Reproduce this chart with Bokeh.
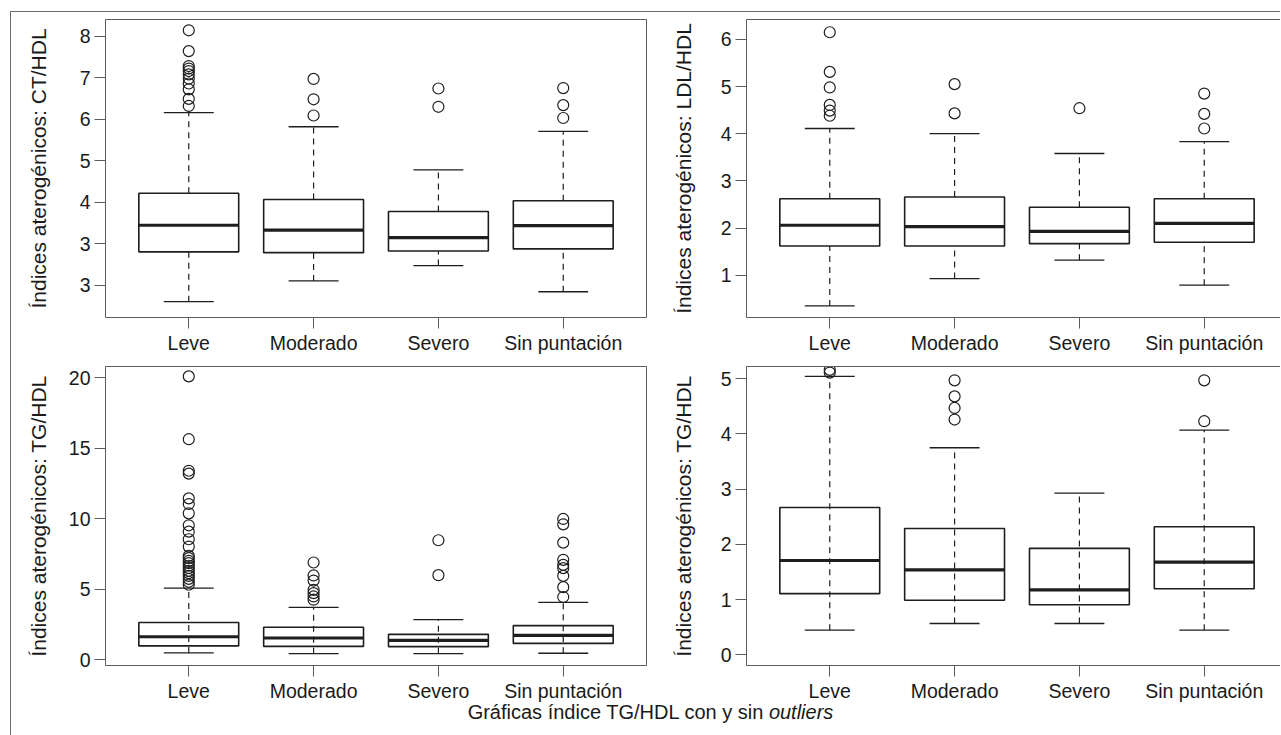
from bokeh.plotting import figure
from bokeh.layouts import column, row
from bokeh.models import FixedTicker, LinearAxis, Range1d, Div
from bokeh.embed import file_html
from bokeh.resources import INLINE

categories = ["Leve", "Moderado", "Severo", "Sin puntación"]

# Panel 1: CT/HDL
ct_q1 = [2.81, 2.79, 2.83, 2.88]
ct_med = [3.45, 3.33, 3.15, 3.44]
ct_q3 = [4.22, 4.07, 3.78, 4.04]
ct_lo = [1.61, 2.11, 2.48, 1.85]
ct_hi = [6.16, 5.82, 4.78, 5.71]
ct_out = [[8.14, 7.64, 7.28, 7.22, 7.16, 7.08, 6.98, 6.86, 6.72, 6.49, 6.32],
          [6.97, 6.48, 6.09], [6.74, 6.30], [6.75, 6.34, 6.03]]
ct_ticks = [2, 3, 4, 5, 6, 7, 8]
ct_labels = ["3", "3", "4", "5", "6", "7", "8"]

# Panel 2: LDL/HDL
ldl_q1 = [1.62, 1.62, 1.67, 1.70]
ldl_med = [2.06, 2.03, 1.93, 2.10]
ldl_q3 = [2.62, 2.66, 2.44, 2.62]
ldl_lo = [0.35, 0.93, 1.32, 0.79]
ldl_hi = [4.11, 4.00, 3.58, 3.83]
ldl_out = [[6.15, 5.31, 4.98, 4.61, 4.49, 4.38], [5.05, 4.43], [4.54], [4.85, 4.42, 4.11]]
ldl_ticks = [1, 2, 3, 4, 5, 6]
ldl_labels = ["1", "2", "3", "4", "5", "6"]

# Panel 3: TG/HDL (con outliers)
tg_q1 = [0.97, 0.94, 0.92, 1.15]
tg_med = [1.62, 1.53, 1.37, 1.72]
tg_q3 = [2.63, 2.29, 1.79, 2.41]
tg_lo = [0.47, 0.42, 0.42, 0.45]
tg_hi = [5.07, 3.70, 2.83, 4.06]
tg_out = [[20.1, 15.64, 13.4, 13.2, 11.44, 11.04, 10.38, 9.53, 9.08, 8.54, 8.02, 7.36, 7.2,
           7.0, 6.85, 6.66, 6.5, 6.3, 6.13, 5.94, 5.73, 5.52, 5.31],
          [6.89, 5.97, 5.61, 4.95, 4.72, 4.48, 4.25],
          [8.47, 5.99],
          [9.98, 9.6, 8.3, 7.08, 6.72, 6.49, 5.94, 5.14, 4.44]]
tg_ticks = [0, 5, 10, 15, 20]
tg_labels = ["0", "5", "10", "15", "20"]

# Panel 4: TG/HDL (sin outliers)
tg2_q1 = [1.11, 0.99, 0.91, 1.20]
tg2_med = [1.71, 1.54, 1.18, 1.68]
tg2_q3 = [2.67, 2.29, 1.93, 2.32]
tg2_lo = [0.45, 0.57, 0.57, 0.45]
tg2_hi = [5.04, 3.75, 2.93, 4.07]
tg2_out = [[5.16, 5.11], [4.97, 4.68, 4.47, 4.26], [], [4.97, 4.23]]
tg2_ticks = [0, 1, 2, 3, 4, 5]
tg2_labels = ["0", "1", "2", "3", "4", "5"]

caption_html = "Gráficas índice TG/HDL con y sin <i>outliers</i>"

FONT = "Liberation Sans"
FRAME = "#5c5c5c"
INK = "#1e1e1e"
TXT = "#1a1a1a"


def style_axis(ax, ticks, labels, size="19.5px"):
    ax.ticker = FixedTicker(ticks=ticks)
    ax.major_label_overrides = {t: l for t, l in zip(ticks, labels)}
    ax.major_tick_out = 11
    ax.major_tick_in = 0
    ax.minor_tick_out = 0
    ax.minor_tick_in = 0
    ax.axis_line_color = FRAME
    ax.major_tick_line_color = FRAME
    ax.major_label_text_font = FONT
    ax.major_label_text_font_size = size
    ax.major_label_text_color = TXT


def blank_axis(color=FRAME):
    return LinearAxis(ticker=FixedTicker(ticks=[]), major_tick_out=0, major_tick_in=0,
                      minor_tick_out=0, minor_tick_in=0, major_label_standoff=0,
                      major_label_text_font_size="0px", axis_line_color=color,
                      axis_label_standoff=0)


def panel(ytitle, q1, med, q3, lo, hi, outs, yrange, yticks, ylabels, xend,
          through, w, h, bl, br, bt, bb, title_standoff, right_border):
    p = figure(width=w, height=h, x_range=Range1d(0.333, xend), y_range=Range1d(*yrange),
               output_backend="svg", toolbar_location=None, tools="",
               min_border_left=bl, min_border_right=br, min_border_top=bt,
               min_border_bottom=bb,
               background_fill_color="white", border_fill_color="white")
    p.outline_line_color = None
    p.grid.visible = False
    xs = list(range(1, len(categories) + 1))
    style_axis(p.xaxis[0], xs, categories)
    p.xaxis.major_label_standoff = 3
    style_axis(p.yaxis[0], yticks, ylabels)
    p.yaxis.major_label_standoff = 4
    p.yaxis.axis_label = ytitle
    p.yaxis.axis_label_text_font = FONT
    p.yaxis.axis_label_text_font_style = "normal"
    p.yaxis.axis_label_text_font_size = "21px"
    p.yaxis.axis_label_text_color = TXT
    p.yaxis.axis_label_standoff = title_standoff
    p.add_layout(blank_axis(), "above")
    if right_border:
        p.add_layout(blank_axis(), "right")

    bw = 0.8
    cap = 0.2
    dash = "6 5"
    if through:
        p.segment(x0=xs, y0=lo, x1=xs, y1=hi, line_color=INK, line_width=1.2, line_dash=dash)
        p.vbar(x=xs, width=bw, bottom=q1, top=q3, fill_color=None, line_color=INK, line_width=1.6)
    else:
        p.segment(x0=xs, y0=q3, x1=xs, y1=hi, line_color=INK, line_width=1.2, line_dash=dash)
        p.segment(x0=xs, y0=lo, x1=xs, y1=q1, line_color=INK, line_width=1.2, line_dash=dash)
        p.vbar(x=xs, width=bw, bottom=q1, top=q3, fill_color="white", line_color=INK, line_width=1.6)
    p.segment(x0=[x - bw / 2 for x in xs], y0=med, x1=[x + bw / 2 for x in xs], y1=med,
              line_color=INK, line_width=3.2)
    p.segment(x0=[x - cap for x in xs], y0=hi, x1=[x + cap for x in xs], y1=hi,
              line_color=INK, line_width=1.3)
    p.segment(x0=[x - cap for x in xs], y0=lo, x1=[x + cap for x in xs], y1=lo,
              line_color=INK, line_width=1.3)
    ox, oy = [], []
    for x, vals in zip(xs, outs):
        ox += [x] * len(vals)
        oy += vals
    p.scatter(x=ox, y=oy, marker="circle", size=11, fill_color=None, line_color=INK,
              line_width=1.2)
    return p


p1 = panel("Índices aterogénicos: CT/HDL", ct_q1, ct_med, ct_q3, ct_lo, ct_hi, ct_out,
           (1.23, 8.40), ct_ticks, ct_labels, 4.667, False,
           656, 344, 94, 21, 7, 37, 27, True)
p2 = panel("Índices aterogénicos: LDL/HDL", ldl_q1, ldl_med, ldl_q3, ldl_lo, ldl_hi, ldl_out,
           (0.105, 6.42), ldl_ticks, ldl_labels, 4.659, False,
           619, 344, 79, 0, 6, 38, 23, False)
p3 = panel("Índices aterogénicos: TG/HDL", tg_q1, tg_med, tg_q3, tg_lo, tg_hi, tg_out,
           (-0.42, 20.8), tg_ticks, tg_labels, 4.667, True,
           656, 348, 94, 21, 10, 38, 16, True)
p4 = panel("Índices aterogénicos: TG/HDL", tg2_q1, tg2_med, tg2_q3, tg2_lo, tg2_hi, tg2_out,
           (-0.19, 5.22), tg2_ticks, tg2_labels, 4.659, True,
           619, 348, 79, 0, 10, 38, 23, False)

cap_div = Div(text=caption_html, width=1270, height=31,
              styles={"text-align": "center", "font-family": FONT, "font-size": "20px",
                      "color": TXT, "line-height": "20px", "width": "1270px",
                      "position": "relative", "top": "-7px"})

layout = column(row(p1, p2), row(p3, p4), cap_div, margin=(11, 0, 0, 10), width=1270,
                styles={"border-top": "1px solid #6a6a6a", "border-left": "1px solid #6a6a6a",
                        "overflow": "hidden", "width": "1270px", "max-width": "1270px"})

open("out.html", "w").write(file_html(layout, INLINE))
